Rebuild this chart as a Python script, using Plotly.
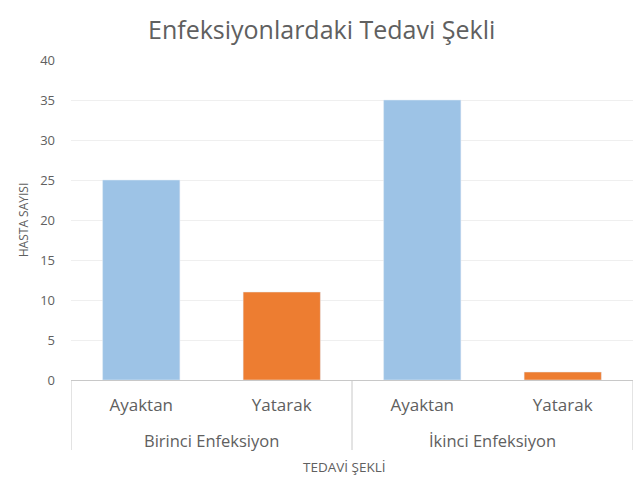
import plotly.graph_objects as go

groups = ["Birinci Enfeksiyon", "İkinci Enfeksiyon"]
types = ["Ayaktan", "Yatarak", "Ayaktan", "Yatarak"]
values = [25, 11, 35, 1]
colors = ["#9DC3E6", "#ED7D31", "#9DC3E6", "#ED7D31"]
title_text = "Enfeksiyonlardaki Tedavi Şekli"

pos = list(range(len(values)))
n_per_group = len(types) // len(groups)

W, H = 633, 469
ML, MR, MT, MB = 63, 8, 52, 97
plot_h = H - MT - MB
plot_w = W - ML - MR

fig = go.Figure(go.Bar(x=pos, y=values, marker_color=colors, width=0.55))

gray = "#606060"
line_c = "#C8C8C8"

for gi, g in enumerate(groups):
    center = gi * n_per_group + (n_per_group - 1) / 2
    fig.add_annotation(x=center, y=0, xref="x", yref="paper", text=g, showarrow=False,
                       yanchor="middle", yshift=-60, font=dict(size=16.5, color=gray))
for k in range(len(groups) + 1):
    xb = k * n_per_group - 0.5
    fig.add_shape(type="line", xref="x", yref="paper", x0=xb, x1=xb, y0=0, y1=-70 / plot_h,
                  line=dict(color=line_c, width=1))
fig.add_annotation(x=0.5, y=0, xref="paper", yref="paper", text="TEDAVİ ŞEKLİ", showarrow=False,
                   xshift=-8, yanchor="middle", yshift=-87, font=dict(size=13.5, color=gray))
# chart title
fig.add_annotation(x=(313 - ML) / plot_w, y=1, xref="paper", yref="paper", text=title_text,
                   showarrow=False, xanchor="center", yanchor="top", yshift=MT - 2,
                   font=dict(size=25, color=gray))

fig.update_layout(
    width=W, height=H,
    paper_bgcolor="white", plot_bgcolor="white",
    margin=dict(l=ML, r=MR, t=MT, b=MB, autoexpand=False),
    font=dict(family="Open Sans, sans-serif", color=gray),
    showlegend=False,
)
fig.update_yaxes(range=[0, 40], dtick=5, showgrid=True, gridcolor="#EFEFEF", zeroline=False,
                 tickfont=dict(size=13, color=gray), ticks="", ticklabelstandoff=15, automargin=False,
                 title=dict(text="HASTA SAYISI", font=dict(size=12, color=gray), standoff=8))
fig.update_xaxes(range=[-0.5, len(values) - 0.5], tickmode="array", tickvals=pos, ticktext=types,
                 showline=True, linecolor=line_c, linewidth=1, showgrid=False, zeroline=False,
                 ticks="", ticklabelstandoff=10, automargin=False,
                 tickfont=dict(size=17, color=gray))

fig.write_html("out.html")
